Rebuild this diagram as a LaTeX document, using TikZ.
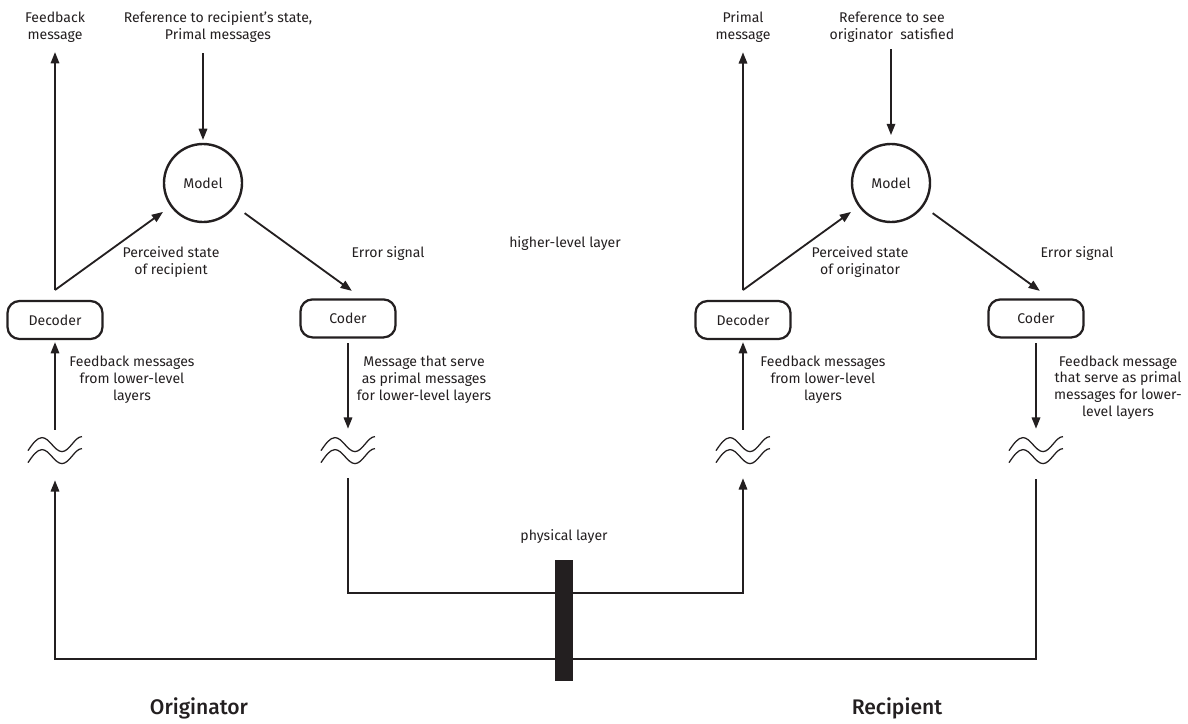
\documentclass[tikz,border=0pt]{standalone}
\usepackage{fontspec}
\setmainfont{Fira Sans}
\newfontfamily\sidefont{Fira Sans}[UprightFont=* Medium]
\usetikzlibrary{positioning, arrows.meta,
calc % for the wave symbols
}
\definecolor{ink}{HTML}{231F20}

\begin{document}
\begin{tikzpicture}[node distance=17.2cm, >={Triangle[length=8pt,width=6pt]},
  every node/.style={font=\fontsize{10}{12}\selectfont, align=center, text=ink},
  model/.style={circle, draw=ink, line width=1.7pt, minimum size=1.95cm},
  box/.style={rectangle, rounded corners=0.3cm, draw=ink, line width=1.6pt,
    minimum width=2.375cm, minimum height=0.95cm},
  wave/.style={minimum width=1.35cm, minimum height=0.7cm, inner sep=0pt},
  bar/.style={fill=ink, minimum width=0.45cm, minimum height=3.025cm, inner sep=0pt},
  link/.style={draw=ink, line width=1.3pt},
  side/.style={font=\sidefont\fontsize{15}{18}\selectfont}]
  \useasboundingbox (0,0) rectangle (29.7,-18.1);

  \node[model] (modelL) at (5.075,-4.575) {Model};
  \node[box] (decoderL) at (1.375,-8.0) {Decoder};
  \node[box] (coderL) at (8.7,-7.96) {Coder};
  \node[wave] (waveL1) at (1.375,-11.275) {};
  \node[wave] (waveL2) at (8.7,-11.275) {};
  \coordinate (splitL) at (1.375,-7.25);

  \node[model, right of=modelL] (modelR) {Model};
  \node[box, right of=decoderL] (decoderR) {Decoder};
  \node[box, right of=coderL] (coderR) {Coder};
  \node[wave, right of=waveL1] (waveR1) {};
  \node[wave, right of=waveL2] (waveR2) {};
  \coordinate[right of=splitL] (splitR);

  \foreach \w in {waveL1, waveL2, waveR1, waveR2}
    \foreach \dy in {0.01, -0.29}
      \draw[ink, line width=0.9pt] ($(\w)+(-0.675,\dy)$) sin ++(0.35,0.325)
        cos ++(0.25,-0.175) sin ++(0.25,-0.175) cos ++(0.25,0.185) sin ++(0.25,0.19);

  % originator side
  \node (fbL) at (1.375,-0.675) {Feedback\\message};
  \node (refL) at (5.45,-0.675) {Reference to recipient’s state,\\Primal messages};
  \node (percL) at (4.275,-6.55) {Perceived state\\of recipient};
  \node (errL) at (9.7,-6.35) {Error signal};
  \node (lowL) at (3.3,-9.5) {Feedback messages\\from lower-level\\layers};
  \node (msgL) at (10.6,-9.5) {Message that serve\\as primal messages\\for lower-level layers};

  % recipient side
  \node (fbR) at (18.575,-0.675) {Primal\\message};
  \node (refR) at (22.3,-0.675) {Reference to see\\originator\ \ satisfied};
  \node (percR) at (21.5,-6.55) {Perceived state\\of originator};
  \node (errR) at (26.925,-6.35) {Error signal};
  \node (lowR) at (20.575,-9.5) {Feedback messages\\from lower-level\\layers};
  \node (msgR) at (27.95,-9.69) {Feedback message\\that serve as primal\\messages for lower-\\level layers};

  \node (layerH) at (14.125,-6.1) {higher-level layer};
  \node[side] (origin) at (4.975,-17.7) {Originator};
  \node[side] (recip) at (22.425,-17.7) {Recipient};

  \draw[link, ->, shorten >=3.5pt] (splitL) -- (fbL);
  \draw[link, ->, shorten >=6.5pt] (splitL) -- (modelL);
  \draw[link, ->, shorten <=4.3pt, shorten >=2pt] (refL.south -| modelL) -- (modelL);
  \draw[link, ->, shorten <=8pt, shorten >=9pt] (modelL) -- (coderL.55);
  \draw[link, ->, shorten <=3.5pt, shorten >=0.2cm] (coderL) -- (waveL2);
  \draw[link, ->, shorten <=0.175cm, shorten >=0.05cm] (waveL1) -- (decoderL);

  \draw[link, ->, shorten >=3.5pt] (splitR) -- (fbR);
  \draw[link, ->, shorten >=6.5pt] (splitR) -- (modelR);
  \draw[link, ->, shorten <=1.5pt, shorten >=5.5pt] (refR.south -| modelR) -- (modelR);
  \draw[link, ->, shorten <=8pt, shorten >=9pt] (modelR) -- (coderR.55);
  \draw[link, ->, shorten <=3.5pt, shorten >=0.2cm] (coderR) -- (waveR2);
  \draw[link, ->, shorten <=0.175cm, shorten >=0.05cm] (waveR1) -- (decoderR);

  \coordinate (linkA) at (14.1,-14.825);
  \coordinate (linkB) at (14.1,-16.475);
  \draw[link, ->, shorten <=0.325cm, shorten >=0.325cm] (waveL2) |- (linkA) -| (waveR1);
  \draw[link, ->, shorten <=0.35cm, shorten >=0.375cm] (waveR2) |- (linkB) -| (waveL1);

  \node[bar] (phys) at (14.1,-15.51) {};
  \node[above of=phys, node distance=2.09cm] (layerP) {physical layer};
\end{tikzpicture}
\end{document}
